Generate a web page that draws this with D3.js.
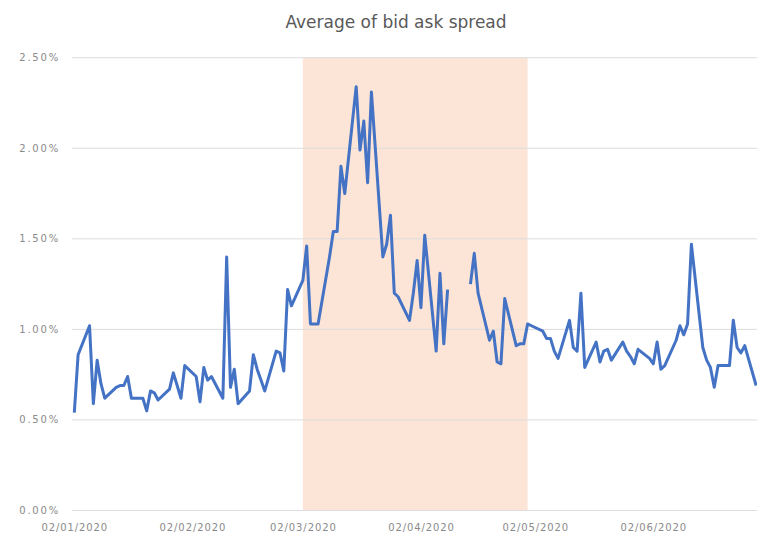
<!DOCTYPE html>
<html>
<head>
<meta charset="utf-8">
<script src="https://cdn.jsdelivr.net/npm/d3@7/dist/d3.min.js"></script>
<style>
  html, body { margin: 0; padding: 0; background: #fff; }
  #chart { width: 757px; height: 535px; }
</style>
</head>
<body>
<div id="chart"></div>
<script>
// trading days and the average spread (in %), null = no quote
const dates = [
  '2020-01-02','2020-01-03','2020-01-06','2020-01-07','2020-01-08','2020-01-09','2020-01-10',
  '2020-01-13','2020-01-14','2020-01-15','2020-01-16','2020-01-17',
  '2020-01-20','2020-01-21','2020-01-22','2020-01-23','2020-01-24',
  '2020-01-27','2020-01-28','2020-01-29','2020-01-30','2020-01-31',
  '2020-02-03','2020-02-04','2020-02-05','2020-02-06','2020-02-07',
  '2020-02-10','2020-02-11','2020-02-12','2020-02-13','2020-02-14',
  '2020-02-17','2020-02-18','2020-02-19','2020-02-20','2020-02-21',
  '2020-02-24','2020-02-25','2020-02-26','2020-02-27','2020-02-28',
  '2020-03-02','2020-03-03','2020-03-04','2020-03-05','2020-03-06',
  '2020-03-09','2020-03-10','2020-03-11','2020-03-12','2020-03-13',
  '2020-03-16','2020-03-17','2020-03-18','2020-03-19','2020-03-20',
  '2020-03-23','2020-03-24','2020-03-25','2020-03-26','2020-03-27',
  '2020-03-30','2020-03-31','2020-04-01','2020-04-02','2020-04-03',
  '2020-04-06','2020-04-07','2020-04-08','2020-04-09','2020-04-10',
  '2020-04-13','2020-04-14','2020-04-15','2020-04-16','2020-04-17',
  '2020-04-20','2020-04-21','2020-04-22','2020-04-23','2020-04-24',
  '2020-04-27','2020-04-28','2020-04-29','2020-04-30','2020-05-01',
  '2020-05-04','2020-05-05','2020-05-06','2020-05-07','2020-05-08',
  '2020-05-11','2020-05-12','2020-05-13','2020-05-14','2020-05-15',
  '2020-05-18','2020-05-19','2020-05-20','2020-05-21','2020-05-22',
  '2020-05-25','2020-05-26','2020-05-27','2020-05-28','2020-05-29',
  '2020-06-01','2020-06-02','2020-06-03','2020-06-04','2020-06-05',
  '2020-06-08','2020-06-09','2020-06-10','2020-06-11','2020-06-12',
  '2020-06-15','2020-06-16','2020-06-17','2020-06-18','2020-06-19',
  '2020-06-22','2020-06-23','2020-06-24','2020-06-25','2020-06-26',
  '2020-06-29'
];
const spread = [
  0.54, 0.86, 1.02, 0.59, 0.83, 0.70, 0.62,
  0.68, 0.69, 0.69, 0.74, 0.62,
  0.62, 0.55, 0.66, 0.65, 0.61,
  0.67, 0.76, 0.69, 0.62, 0.80,
  0.74, 0.60, 0.79, 0.72, 0.74,
  0.62, 1.40, 0.68, 0.78, 0.59,
  0.66, 0.86, 0.78, 0.72, 0.66,
  0.88, 0.87, 0.77, 1.22, 1.13,
  1.27, 1.46, 1.03, 1.03, 1.03,
  1.40, 1.54, 1.54, 1.90, 1.75,
  2.34, 1.99, 2.15, 1.81, 2.31,
  1.40, 1.47, 1.63, 1.20, 1.18,
  1.05, 1.20, 1.38, 1.12, 1.52,
  0.88, 1.31, 0.92, 1.22, null,
  null, null, 1.25, 1.42, 1.20,
  0.94, 0.99, 0.82, 0.81, 1.17,
  0.91, 0.92, 0.92, 1.03, 1.02,
  0.99, 0.95, 0.95, 0.88, 0.84,
  1.05, 0.90, 0.88, 1.20, 0.79,
  0.93, 0.82, 0.88, 0.89, 0.83,
  0.93, 0.88, 0.85, 0.81, 0.89,
  0.84, 0.81, 0.93, 0.78, 0.80,
  0.94, 1.02, 0.97, 1.03, 1.47,
  0.90, 0.83, 0.79, 0.68, 0.80,
  0.80, 1.05, 0.90, 0.87, 0.91,
  0.69
];
const yTicks = [0, 0.5, 1, 1.5, 2, 2.5];
const xTicks = ['2020-01-02','2020-02-02','2020-03-02','2020-04-02','2020-05-02','2020-06-02'];
const shadeRange = ['2020-03-02', '2020-04-30'];
const title = 'Average of bid ask spread';

const parse = d3.timeParse('%Y-%m-%d');
const W = 757, H = 535;
const plot = { left: 72, right: 757, top: 57.7, bottom: 510.5 };

const svg = d3.select('#chart').append('svg').attr('width', W).attr('height', H)
  .style('font-family', '"DejaVu Sans", sans-serif');

const x = d3.scaleTime()
  .domain([parse('2020-01-02'), parse('2020-06-02')])
  .range([74.3, 653.3]);
const y = d3.scaleLinear().domain([0, 2.5]).range([plot.bottom, plot.top]);

// highlighted period
svg.append('rect')
  .attr('x', x(parse(shadeRange[0])))
  .attr('y', y(2.5))
  .attr('width', x(parse(shadeRange[1])) - x(parse(shadeRange[0])))
  .attr('height', y(0) - y(2.5))
  .attr('fill', '#fce5d7');

// gridlines
svg.append('g')
  .selectAll('line')
  .data(yTicks)
  .join('line')
  .attr('x1', plot.left)
  .attr('x2', plot.right)
  .attr('y1', (d) => y(d))
  .attr('y2', (d) => y(d))
  .attr('stroke', '#dcdcdc')
  .attr('stroke-width', 1);

// y labels
svg.append('g')
  .selectAll('text')
  .data(yTicks)
  .join('text')
  .attr('x', 60)
  .attr('y', (d) => y(d) + 3.5)
  .attr('text-anchor', 'end')
  .attr('fill', '#8a8a8a')
  .style('font-size', '10px')
  .style('letter-spacing', '1.8px')
  .text((d) => d3.format('.2f')(d) + '%');

// x labels
const xAxis = svg.append('g')
  .attr('transform', `translate(0,${plot.bottom})`)
  .call(d3.axisBottom(x)
    .tickValues(xTicks.map(parse))
    .tickFormat(d3.timeFormat('%d/%m/%Y'))
    .tickSize(0)
    .tickPadding(13));
xAxis.select('.domain').remove();
xAxis.selectAll('text')
  .attr('fill', '#8a8a8a')
  .style('font-family', '"DejaVu Sans", sans-serif')
  .style('font-size', '10px')
  .style('letter-spacing', '0.9px');

// series
const points = dates.map((d, i) => ({ date: parse(d), value: spread[i] }));
const line = d3.line()
  .defined((d) => d.value != null)
  .x((d) => x(d.date))
  .y((d) => y(d.value));

svg.append('path')
  .datum(points)
  .attr('d', line)
  .attr('fill', 'none')
  .attr('stroke', '#4472c4')
  .attr('stroke-width', 3)
  .attr('stroke-linejoin', 'round');

svg.append('text')
  .attr('x', 396)
  .attr('y', 28)
  .attr('text-anchor', 'middle')
  .attr('fill', '#595959')
  .style('font-size', '17px')
  .text(title);
</script>
</body>
</html>
